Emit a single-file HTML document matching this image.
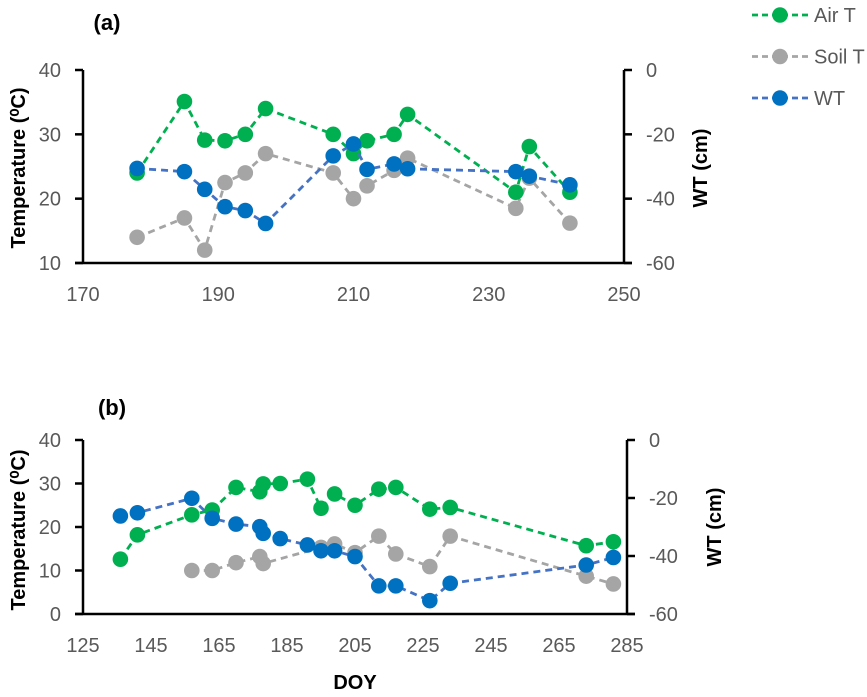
<!DOCTYPE html>
<html><head><meta charset="utf-8">
<style>
body{margin:0;background:#fff;}
svg{display:block;font-family:"Liberation Sans",Arial,sans-serif;}
.tick{fill:#595959;font-size:20px;}
.ttl{fill:#000;font-size:20px;font-weight:bold;}
.pl{fill:#000;font-size:22px;font-weight:bold;}
</style></head>
<body>
<svg id="chart" width="867" height="697" viewBox="0 0 867 697" xmlns="http://www.w3.org/2000/svg"></svg>
<script>
// Panel (a)
const aAirDays = [178,185,188,191,194,197,207,210,212,216,218,234,236,242];
const aAirT = [24,35.1,29.1,29,30,34,30,27,29,30,33.1,21,28.1,21];
const aSoilDays = [178,185,188,191,194,197,207,210,212,216,218,234,236,242];
const aSoilT = [14,17,12,22.5,24,27,24,20,22,24.4,26.3,18.5,23.2,16.2];
const aWTDays = [178,185,188,191,194,197,207,210,212,216,218,234,236,242];
const aWT = [-30.6,-31.6,-37.1,-42.5,-43.7,-47.7,-26.7,-23,-30.9,-29.2,-30.7,-31.6,-33,-35.7];
const aXTicks = [170,190,210,230,250];
const aYTicks = [10,20,30,40];
const aY2Ticks = [-60,-40,-20,0];
// Panel (b)
const bAirDays = [136,141,157,163,170,177,178,183,191,195,199,205,212,217,227,233,273,281];
const bAirT = [12.6,18.2,22.8,23.9,29.1,28.1,29.9,30,31,24.3,27.6,25,28.7,29.1,24.1,24.5,15.7,16.6];
const bSoilDays = [157,163,170,177,178,195,199,205,212,217,227,233,273,281];
const bSoilT = [10,10,11.8,13.2,11.6,15.3,16.1,14.1,17.9,13.8,10.9,17.9,8.7,6.9];
const bWTDays = [136,141,157,163,170,177,178,183,191,195,199,205,212,217,227,233,273,281];
const bWT = [-26.2,-25.1,-20.1,-27,-29,-29.9,-32.2,-34,-36.2,-38.2,-38.2,-40.2,-50.3,-50.3,-55.4,-49.4,-43.1,-40.5];
const bXTicks = [125,145,165,185,205,225,245,265,285];
const bYTicks = [0,10,20,30,40];
const bY2Ticks = [-60,-40,-20,0];

const NS = "http://www.w3.org/2000/svg";
const svg = document.getElementById('chart');
function mk(tag, attrs, parent){const e=document.createElementNS(NS,tag);for(const k in attrs)e.setAttribute(k,attrs[k]);(parent||svg).appendChild(e);return e;}

function panel(p){
  const g = mk('g',{});
  
  
  const sx = v => p.x0 + (v - p.xmin)/(p.xmax - p.xmin)*(p.x1 - p.x0);
  const sy = v => p.yb - (v - p.ymin)/(p.ymax - p.ymin)*(p.yb - p.yt);
  const sy2 = v => p.yb - (v - p.y2min)/(p.y2max - p.y2min)*(p.yb - p.yt);
  const ax = mk('line',{x1:p.x0-8,y1:p.yb,x2:p.x1+8,y2:p.yb,stroke:'#000','stroke-width':2.5},g);
   
  const ay = mk('line',{x1:p.x0,y1:p.yt,x2:p.x0,y2:p.yb,stroke:'#000','stroke-width':2.5},g);
   
  const ay2 = mk('line',{x1:p.x1,y1:p.yt,x2:p.x1,y2:p.yb,stroke:'#000','stroke-width':2.5},g);
   
  p.xt.forEach(v=>{
    const t=mk('text',{x:sx(v),y:p.yb+38,'text-anchor':'middle',class:'tick'},g);t.textContent=v;
     
  });
  p.yt1.forEach(v=>{
    mk('line',{x1:p.x0-8,y1:sy(v),x2:p.x0,y2:sy(v),stroke:'#000','stroke-width':2.5},g);
    const t=mk('text',{x:p.x0-22,y:sy(v)+7,'text-anchor':'end',class:'tick'},g);t.textContent=v;
     
  });
  p.yt2.forEach(v=>{
    mk('line',{x1:p.x1,y1:sy2(v),x2:p.x1+8,y2:sy2(v),stroke:'#000','stroke-width':2.5},g);
    const t=mk('text',{x:p.x1+22,y:sy2(v)+7,'text-anchor':'start',class:'tick'},g);t.textContent=v;
     
  });
  function series(days, vals, scale, lc, mc, nm){
    const sg = mk('g',{},g);
    
    
    const pts = days.map((d,i)=>sx(d).toFixed(1)+','+scale(vals[i]).toFixed(1)).join(' ');
    mk('polyline',{points:pts,fill:'none',stroke:lc,'stroke-width':2.8,'stroke-dasharray':'7,5'},sg);
    days.forEach((d,i)=>{
      const c = mk('circle',{cx:sx(d),cy:scale(vals[i]),r:7.8,fill:mc},sg);
      
      
    });
  }
  series(p.soilD,p.soilV,sy,'#A5A5A5','#A5A5A5',p.name+'-soil-t');
  series(p.airD,p.airV,sy,'#00B050','#00B050',p.name+'-air-t');
  series(p.wtD,p.wtV,sy2,'#4472C4','#0070C0',p.name+'-wt');
}

panel({name:'panel-a',x0:83,x1:624,yt:70,yb:263,xmin:170,xmax:250,ymin:10,ymax:40,y2min:-60,y2max:0,
  xt:aXTicks,yt1:aYTicks,yt2:aY2Ticks,airD:aAirDays,airV:aAirT,soilD:aSoilDays,soilV:aSoilT,wtD:aWTDays,wtV:aWT});
panel({name:'panel-b',x0:83,x1:627,yt:440,yb:614,xmin:125,xmax:285,ymin:0,ymax:40,y2min:-60,y2max:0,
  xt:bXTicks,yt1:bYTicks,yt2:bY2Ticks,airD:bAirDays,airV:bAirT,soilD:bSoilDays,soilV:bSoilT,wtD:bWTDays,wtV:bWT});

function txt(x,y,s,cls,nm,rot){const t=mk('text',{x:x,y:y,class:cls,'text-anchor':'middle'});t.textContent=s;if(rot)t.setAttribute('transform','rotate(-90 '+x+' '+y+')');
  return t;}
txt(107,30,'(a)','pl','panel-a-label');
txt(112,415,'(b)','pl','panel-b-label');
txt(25,168,'Temperature (⁰C)','ttl','y-axis-title-a',true);
txt(25,530,'Temperature (⁰C)','ttl','y-axis-title-b',true);
txt(707,168,'WT (cm)','ttl','y2-axis-title-a',true);
txt(721,527,'WT (cm)','ttl','y2-axis-title-b',true);
txt(355,689,'DOY','ttl','x-axis-title');

const legNames=['Air T','Soil T','WT'];
const legLine=['#00B050','#A5A5A5','#4472C4'];
const legMark=['#00B050','#A5A5A5','#0070C0'];
legNames.forEach((n,i)=>{
  const y=15+i*41.5;
  const lg=mk('g',{});
  
  
  mk('line',{x1:752,y1:y,x2:808,y2:y,stroke:legLine[i],'stroke-width':2.8,'stroke-dasharray':'6,4'},lg);
  mk('circle',{cx:780,cy:y,r:7.8,fill:legMark[i]},lg);
  const t=mk('text',{x:814,y:y+7,class:'tick'},lg);t.textContent=n;
});
</script>
</body></html>
